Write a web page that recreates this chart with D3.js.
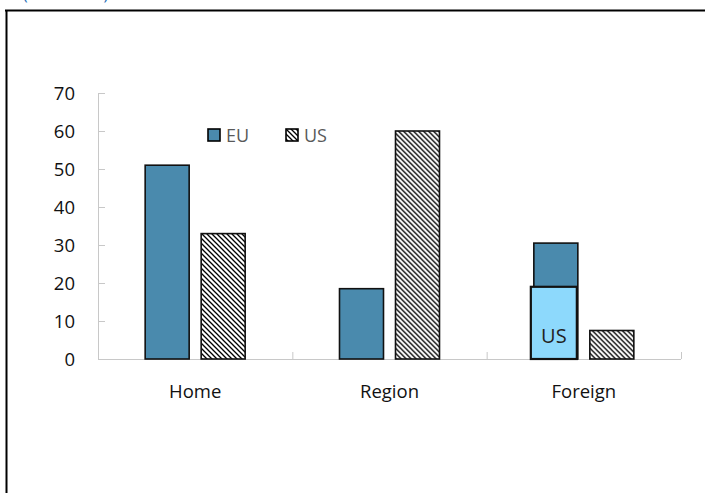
<!DOCTYPE html>
<html>
<head>
<meta charset="utf-8">
<script src="https://cdn.jsdelivr.net/npm/d3@7"></script>
<style>
  body { margin: 0; background: #fff; }
  text { font-family: "Open Sans", "Noto Sans", sans-serif; }
</style>
</head>
<body>
<svg></svg>
<script>
var width = 705, height = 493;

var categories = ["Home", "Region", "Foreign"];
var seriesNames = ["EU", "US"];
var euValues = [51, 18.5, 30.5];
var usValues = [33, 60, 7.5];
var yTicks = [0, 10, 20, 30, 40, 50, 60, 70];
// extra US box drawn over the EU bar in "Foreign"
var usOverlay = {category: "Foreign", value: 19, label: "US"};

var data = categories.map((c, i) => ({category: c, EU: euValues[i], US: usValues[i]}));

var plotLeft = 98, plotRight = 681, plotTop = 93, plotBottom = 359;

var xScale = d3.scaleBand()
               .domain(categories)
               .range([plotLeft, plotRight]);

var bw = xScale.bandwidth();
var xInner = d3.scaleBand()
               .domain(seriesNames)
               .range([bw / 2 - 50, bw / 2 + 50])
               .paddingInner(12 / 56);

var yScale = d3.scaleLinear()
               .domain([0, 70])
               .range([plotBottom, plotTop]);

var svg = d3.select("svg")
            .attr("width", width)
            .attr("height", height);

var defs = svg.append("defs");
defs.append("pattern")
    .attr("id", "hatch")
    .attr("patternUnits", "userSpaceOnUse")
    .attr("width", 5)
    .attr("height", 5)
  .append("path")
    .attr("d", "M0,0 L5,5 M-1,4 L1,6 M4,-1 L6,1")
    .attr("stroke", "#000")
    .attr("stroke-width", 1.3);

var fills = {EU: "#4a8aad", US: "url(#hatch)"};

// frame + clipped title
svg.append("text")
   .attr("x", 23)
   .attr("y", -0.5)
   .text("(In Percent)")
   .style("font-size", "16px")
   .attr("fill", "#1f6fb8");

svg.append("line")
   .attr("x1", 5).attr("x2", width)
   .attr("y1", 10.5).attr("y2", 10.5)
   .attr("stroke", "#000").attr("stroke-width", 2);
svg.append("line")
   .attr("x1", 6.5).attr("x2", 6.5)
   .attr("y1", 10).attr("y2", height)
   .attr("stroke", "#000").attr("stroke-width", 2);

// axes
var yAxis = d3.axisRight(yScale)
              .tickValues(yTicks)
              .tickSize(7)
              .tickFormat("");
var gy = svg.append("g")
            .attr("transform", "translate(" + plotLeft + ",0)")
            .call(yAxis);
gy.select(".domain").attr("stroke", "#c8c8c8").attr("d", "M0.5," + plotTop + "V" + plotBottom);
gy.selectAll(".tick line").attr("stroke", "#c8c8c8");

svg.append("g")
   .selectAll("text")
   .data(yTicks)
   .enter()
   .append("text")
   .attr("x", 75)
   .attr("y", d => yScale(d))
   .attr("dy", "0.36em")
   .attr("text-anchor", "end")
   .text(d => d)
   .style("font-size", "18.5px")
   .attr("fill", "#111");

var bounds = categories.map(c => xScale(c)).concat([plotRight]);
svg.append("line")
   .attr("x1", plotLeft).attr("x2", plotRight)
   .attr("y1", plotBottom + 0.5).attr("y2", plotBottom + 0.5)
   .attr("stroke", "#c8c8c8");
svg.append("g")
   .selectAll("line")
   .data(bounds.slice(1))
   .enter()
   .append("line")
   .attr("x1", d => d + 0.5).attr("x2", d => d + 0.5)
   .attr("y1", plotBottom).attr("y2", plotBottom - 7)
   .attr("stroke", "#c8c8c8");

svg.append("g")
   .selectAll("text")
   .data(categories)
   .enter()
   .append("text")
   .attr("x", d => xScale(d) + bw / 2)
   .attr("y", 398)
   .attr("text-anchor", "middle")
   .text(d => d)
   .style("font-size", "18.5px")
   .attr("fill", "#111");

// bars
var groups = svg.append("g")
                .selectAll("g")
                .data(data)
                .enter()
                .append("g")
                .attr("transform", d => "translate(" + xScale(d.category) + ",0)");

groups.selectAll("rect")
      .data(d => seriesNames.map(s => ({series: s, value: d[s]})))
      .enter()
      .append("rect")
      .attr("x", d => xInner(d.series))
      .attr("y", d => yScale(d.value))
      .attr("width", xInner.bandwidth())
      .attr("height", d => yScale(0) - yScale(d.value))
      .attr("fill", d => fills[d.series])
      .attr("stroke", "#111")
      .attr("stroke-width", 1.6);

// overlay box
var ox = xScale(usOverlay.category) + xInner("EU") - 3;
svg.append("rect")
   .attr("x", ox)
   .attr("y", yScale(usOverlay.value))
   .attr("width", xInner.bandwidth() + 2)
   .attr("height", yScale(0) - yScale(usOverlay.value))
   .attr("fill", "#8dd9fc")
   .attr("stroke", "#111")
   .attr("stroke-width", 2.2);
svg.append("text")
   .attr("x", ox + (xInner.bandwidth() + 2) / 2)
   .attr("y", 343)
   .attr("text-anchor", "middle")
   .text(usOverlay.label)
   .style("font-size", "20px")
   .attr("fill", "#222");

// legend
var legend = svg.append("g")
                .selectAll("g")
                .data(seriesNames)
                .enter()
                .append("g")
                .attr("transform", (d, i) => "translate(" + (208 + i * 78) + ",129)");
legend.append("rect")
      .attr("width", 12)
      .attr("height", 12)
      .attr("fill", d => fills[d])
      .attr("stroke", "#000")
      .attr("stroke-width", 1.6);
legend.append("text")
      .attr("x", 18)
      .attr("y", 13)
      .text(d => d)
      .style("font-size", "18px")
      .attr("fill", "#595959");
</script>
</body>
</html>
